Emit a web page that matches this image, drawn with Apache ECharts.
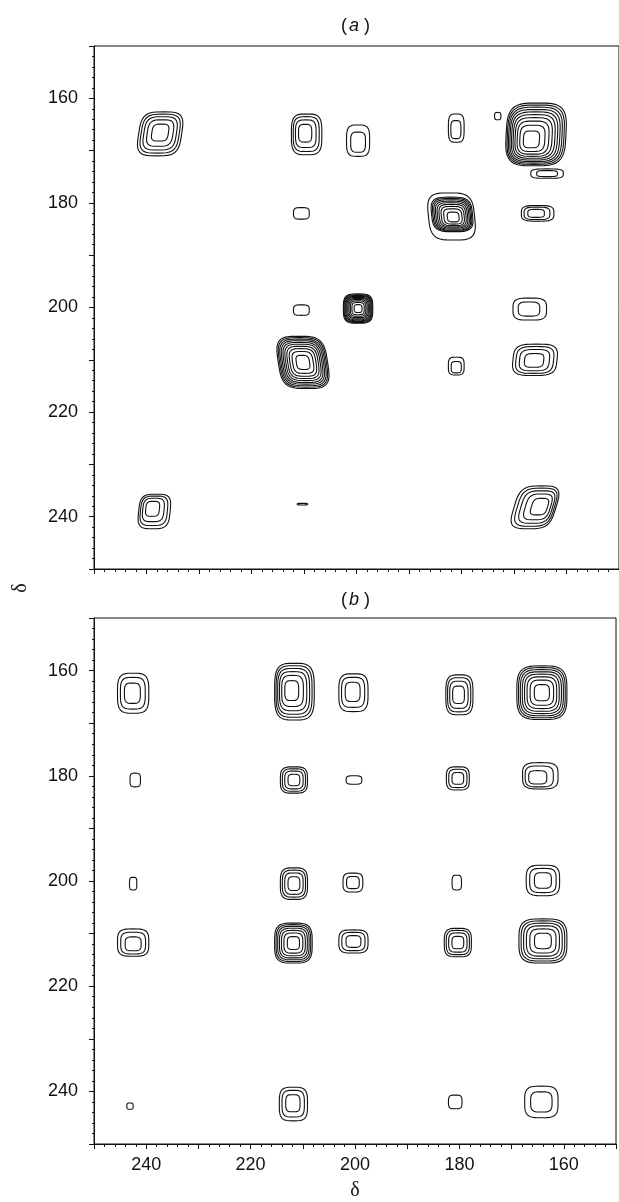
<!DOCTYPE html>
<html>
<head>
<meta charset="utf-8">
<script src="https://cdn.jsdelivr.net/npm/echarts@6/dist/echarts.min.js"></script>
<style>
html, body { margin: 0; padding: 0; background: #fff; }
#chart { width: 619px; height: 1202px; }
</style>
</head>
<body>
<div id="chart"></div>
<script>
// tick labels shared by both axes of both panels
var tickLabels = [160, 180, 200, 220, 240];

// panel (a): peak centre (delta, delta), half width / half height (delta units),
// number of contour levels, lean of the contours, drift of the inner centre
var aX      = [237.4, 209.5, 199.7, 181.0, 173.1, 165.8, 163.7, 210.5, 181.8, 181.9, 165.5, 210.5, 199.7, 167.0, 210.2, 181.0, 166.0, 238.5, 210.3, 166.0];
var aY      = [166.8, 166.9, 168.1, 165.7, 163.4, 166.9, 174.4, 182.0, 182.2, 182.6, 182.0, 200.5, 200.2, 200.3, 210.5, 211.2, 210.0, 239.0, 237.6, 238.2];
var aW      = [4.1, 2.9, 2.2, 1.5, 0.6, 5.7, 3.1, 1.5, 3.9, 4.4, 3.1, 1.5, 2.8, 3.2, 4.7, 1.5, 4.2, 3.0, 1.0, 4.0];
var aH      = [4.2, 3.9, 3.0, 2.7, 0.7, 6.0, 0.9, 1.1, 3.3, 4.5, 1.5, 1.0, 2.8, 2.1, 5.0, 1.7, 3.0, 3.3, 0.15, 4.1];
var aLevels = [5, 4, 2, 2, 1, 10, 2, 1, 9, 1, 3, 1, 10, 2, 10, 2, 4, 4, 1, 5];
var aLean   = [0.15, 0, 0, 0, 0, 0.05, 0, 0, -0.1, -0.1, 0, 0, 0, 0, -0.15, 0, 0.1, 0.1, 0, 0.3];
var aDx     = [0, 0.5, 0, 0.2, 0, 1.2, 0, 0, -0.3, 0, 0.6, 0, 0, 0.4, 0, 0, 0.3, 0.6, 0, -1.4];
var aDy     = [-0.4, -0.4, 0.8, 0.8, 0, 1.3, 0, 0, 0.7, 0, 0, 0, 0, 0, 0, 0.6, 0.2, -0.9, 0, -0.2];

// panel (b)
var bX      = [242.5, 211.6, 200.3, 180.0, 164.2, 242.1, 211.7, 200.2, 180.3, 164.5, 242.5, 211.7, 200.4, 180.5, 164.0, 242.5, 211.8, 200.3, 180.3, 164.0, 243.1, 211.8, 180.8, 164.3];
var bY      = [164.3, 164.0, 164.2, 164.6, 164.2, 180.8, 180.8, 180.8, 180.5, 180.0, 200.5, 200.5, 200.3, 200.3, 199.9, 211.7, 211.8, 211.5, 211.7, 211.4, 242.8, 242.4, 242.0, 242.0];
var bW      = [3.0, 3.8, 2.8, 2.6, 4.8, 1.0, 2.6, 1.5, 2.2, 3.4, 0.7, 2.6, 1.9, 0.9, 3.2, 3.0, 3.6, 2.8, 2.6, 4.6, 0.6, 2.7, 1.3, 3.2];
var bH      = [3.8, 5.4, 3.6, 3.8, 5.1, 1.3, 2.5, 0.8, 2.2, 2.5, 1.2, 3.0, 1.8, 1.4, 2.9, 2.6, 3.8, 2.2, 2.7, 4.2, 0.6, 3.2, 1.3, 3.0];
var bLevels = [3, 6, 3, 4, 8, 1, 4, 1, 3, 3, 1, 4, 2, 1, 3, 3, 7, 3, 4, 6, 1, 3, 1, 2];
var bLean   = [0, 0, 0, 0, 0, 0, 0, 0, 0, 0, 0, 0, 0, 0, 0, 0, 0, 0, 0, 0, 0, 0, 0, 0];
var bDx     = [0.3, 0.8, 0.3, 0.3, 0, 0, 0, 0, 0, 1.0, 0, 0, 0, 0, 0, 0, 0, 0, 0, 0, 0, 0.2, 0, 0];
var bDy     = [0, -0.3, -0.3, 0, 0, 0, 0, 0, 0, 0.6, 0, 0, 0, 0, 0, 0.5, 0, 0, 0, 0, 0, -0.3, 0, 0];

function peaks(X, Y, W, H, N, L, DX, DY) {
	return X.map(function (x, i) {
		return [x, Y[i], W[i], H[i], N[i], L[i], DX[i], DY[i]];
	});
}

var ink = '#111';
var sans = '"Liberation Sans", Arial, sans-serif';
var serif = '"Liberation Serif", "DejaVu Serif", serif';

// nested rounded contours around every peak, placed through the axes
function drawContours(params, api) {
	var cx = api.value(0), cy = api.value(1);
	var hw = api.value(2), hh = api.value(3);
	var n = api.value(4), lean = api.value(5);
	var dx = api.value(6), dy = api.value(7);
	var children = [];
	for (var k = 0; k < n; k++) {
		var s = Math.sqrt(1 - k / (n - 0.3));
		var ox = cx + dx * (1 - s), oy = cy + dy * (1 - s);
		var pts = [];
		for (var j = 0; j < 48; j++) {
			var t = j / 48 * Math.PI * 2;
			var c = Math.cos(t), si = Math.sin(t);
			var u = (c < 0 ? -1 : 1) * Math.pow(Math.abs(c), 0.55);
			var v = (si < 0 ? -1 : 1) * Math.pow(Math.abs(si), 0.55);
			var py = v * hh * s;
			pts.push(api.coord([ox + u * hw * s + lean * py, oy + py]));
		}
		children.push({
			type: 'polygon',
			shape: { points: pts },
			style: { fill: 'none', stroke: ink, lineWidth: 1.1 }
		});
	}
	return { type: 'group', children: children };
}

function labelOf(v) {
	return tickLabels.indexOf(v) >= 0 ? String(v) : '';
}

function xAxisFor(gi, withLabels) {
	return {
		type: 'value', gridIndex: gi, min: 150, max: 250, interval: 10, inverse: true,
		axisLine: { show: true, lineStyle: { color: ink, width: 1 } },
		axisTick: { show: true, length: 5, lineStyle: { color: ink } },
		minorTick: { show: true, splitNumber: 5, length: 3, lineStyle: { color: ink } },
		splitLine: { show: false },
		axisLabel: { show: withLabels, margin: 12, fontSize: 18, color: ink, fontFamily: sans, formatter: labelOf },
		name: withLabels ? 'δ' : '',
		nameLocation: 'middle', nameGap: 37,
		nameTextStyle: { fontSize: 20, color: ink, fontFamily: serif }
	};
}

function yAxisFor(gi) {
	return {
		type: 'value', gridIndex: gi, min: 150, max: 250, interval: 10, inverse: true,
		axisLine: { show: true, lineStyle: { color: ink, width: 1 } },
		axisTick: { show: true, length: 5, lineStyle: { color: ink } },
		minorTick: { show: true, splitNumber: 5, length: 2, lineStyle: { color: ink } },
		splitLine: { show: false },
		axisLabel: { margin: 16, fontSize: 18, color: ink, fontFamily: sans, formatter: labelOf }
	};
}

var chart = echarts.init(document.getElementById('chart'));

chart.setOption({
	animation: false,
	backgroundColor: '#fff',
	grid: [
		{ left: 94, width: 527, top: 46, height: 523, show: true, borderColor: ink, borderWidth: 1 },
		{ left: 94, width: 527, top: 618, height: 527, show: true, borderColor: ink, borderWidth: 1 }
	],
	xAxis: [xAxisFor(0, false), xAxisFor(1, true)],
	yAxis: [yAxisFor(0), yAxisFor(1)],
	graphic: [
		{ type: 'text', x: 341, y: 17, style: { text: '(', font: '18px ' + sans, fill: ink } },
		{ type: 'text', x: 349, y: 17, style: { text: 'a', font: 'italic 18px ' + sans, fill: ink } },
		{ type: 'text', x: 364, y: 17, style: { text: ')', font: '18px ' + sans, fill: ink } },
		{ type: 'text', x: 341, y: 591, style: { text: '(', font: '18px ' + sans, fill: ink } },
		{ type: 'text', x: 349, y: 591, style: { text: 'b', font: 'italic 18px ' + sans, fill: ink } },
		{ type: 'text', x: 364, y: 591, style: { text: ')', font: '18px ' + sans, fill: ink } },
		{
			type: 'text', x: 21, y: 588, rotation: Math.PI / 2,
			style: { text: 'δ', font: '20px ' + serif, fill: ink, align: 'center', verticalAlign: 'middle' }
		}
	],
	series: [
		{
			type: 'custom', xAxisIndex: 0, yAxisIndex: 0, clip: true,
			renderItem: drawContours, encode: { x: 0, y: 1 },
			data: peaks(aX, aY, aW, aH, aLevels, aLean, aDx, aDy)
		},
		{
			type: 'custom', xAxisIndex: 1, yAxisIndex: 1, clip: true,
			renderItem: drawContours, encode: { x: 0, y: 1 },
			data: peaks(bX, bY, bW, bH, bLevels, bLean, bDx, bDy)
		}
	]
});
</script>
</body>
</html>
